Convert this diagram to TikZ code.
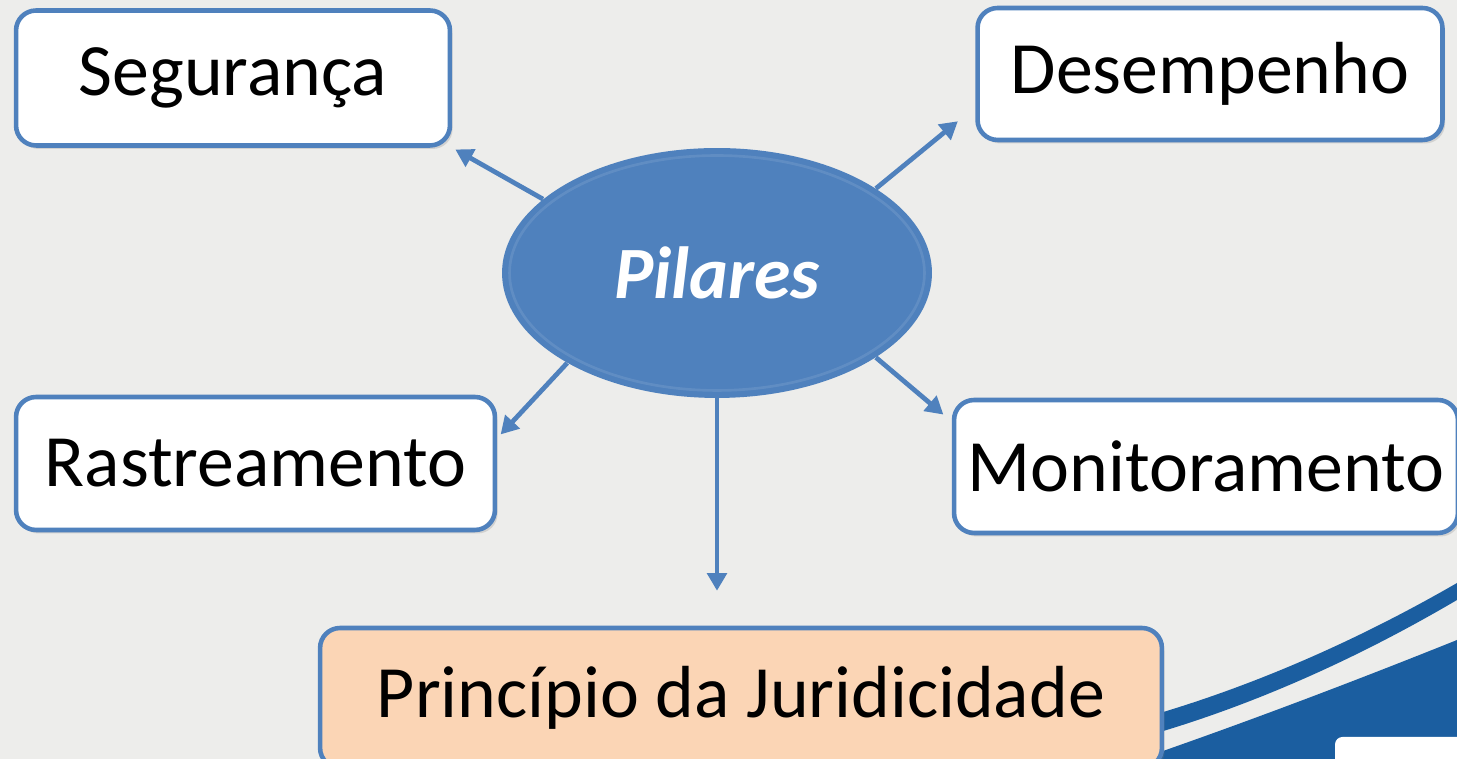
\documentclass[tikz,border=0pt]{standalone}
\usepackage{fontspec}
\setmainfont{Carlito}
\usetikzlibrary{arrows.meta, shapes.geometric, shadows, calc}

\definecolor{pilarblue}{RGB}{79,129,189}
\definecolor{swooshblue}{RGB}{27,94,160}
\definecolor{bggray}{RGB}{237,237,235}
\definecolor{peach}{RGB}{251,213,181}

\tikzset{
  pilarbox/.style={draw=pilarblue, line width=2.6pt, rounded corners=0.4cm, fill=white,
    font=\fontsize{42}{50}\selectfont,
    drop shadow={shadow xshift=1.5pt, shadow yshift=-2pt, opacity=0.25}},
  pilararrow/.style={-{Triangle[length=10pt,width=11pt]}, draw=pilarblue, line width=2.7pt},
}

\begin{document}
\begin{tikzpicture}[x=0.02cm, y=0.02cm]
% Background
\useasboundingbox (0,0) rectangle (1457,759);
\clip (0,0) rectangle (1457,759);
\fill[bggray] (0,0) rectangle (1457,759);

% Swoosh
\fill[swooshblue] (1160,46) .. controls (1260,76) and (1360,120) .. (1457,176)
  -- (1457,159) .. controls (1360,102) and (1260,57) .. (1160,27) -- cycle;
\fill[swooshblue] (1140,0) .. controls (1250,38) and (1360,80) .. (1457,119)
  -- (1457,0) -- cycle;
\fill[white, rounded corners=0.15cm] (1335,-10) rectangle (1470,22);

% Centre
\node[ellipse, fill=pilarblue, minimum width=8.6cm, minimum height=5cm, text=white,
  font=\fontsize{42}{50}\selectfont\bfseries\itshape] (pil) at (717,486) {Pilares};
\draw[white, opacity=0.1, line width=1.5pt] (pil.center) ellipse [x radius=4.15cm, y radius=2.35cm];

% Pillars
\node[pilarbox, minimum width=8.68cm, minimum height=2.7cm] (seg) at (233,681) {Segurança};
\node[pilarbox, minimum width=9.3cm, minimum height=2.64cm] (des) at (1210,685) {Desempenho};
\node[pilarbox, minimum width=9.58cm, minimum height=2.66cm] (ras) at (255.5,295.5) {Rastreamento};
\node[pilarbox, minimum width=10.08cm, minimum height=2.66cm] (mon) at (1206,292.5) {Monitoramento};
\node[pilarbox, fill=peach, minimum width=16.84cm, minimum height=2.8cm] (pri) at (741,61) {Princípio da Juridicidade};

% Arrows
\draw[pilararrow, shorten >=2pt] (pil.157) -- (seg.south east);
\draw[pilararrow, shorten >=0.45cm] (pil.28) -- (des.188);
\draw[pilararrow, shorten >=0.1cm] (pil.211) -- (ras.6);
\draw[pilararrow, shorten >=0.22cm] (pil.-28) -- (mon.170);
\draw[pilararrow, shorten >=0.7cm] (pil.south) -- (pil.south |- pri.north);
\end{tikzpicture}
\end{document}
